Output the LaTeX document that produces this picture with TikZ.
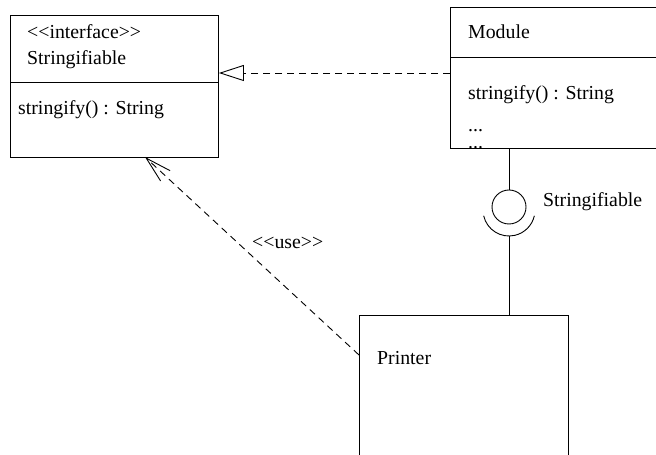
\documentclass[tikz,border=0pt]{standalone}
\usepackage{fontspec}
\setmainfont{Liberation Serif}
\usetikzlibrary{arrows.meta,calc}
\begin{document}
\begin{tikzpicture}[x=1pt,y=1pt,
  every node/.style={font=\fontsize{19.8}{24}\selectfont},
  box/.style={draw, line width=0.9pt, rectangle, inner sep=0pt, anchor=north west},
  txt/.style={anchor=base west, inner sep=0pt},
  ln/.style={line width=0.9pt},
  dep/.style={line width=0.9pt, dash pattern=on 7pt off 5pt},
]
\useasboundingbox (0,0) rectangle (656,455);
\clip (0,0) rectangle (656,455);
% boxes
\node[box, minimum width=208pt, minimum height=142pt] (iface) at (10,440) {};
\node[box, minimum width=230pt, minimum height=141pt] (module) at (450,448) {};
\node[box, minimum width=209pt, minimum height=220pt] (printer) at (359,140) {};
\draw[ln] (iface.west |- 0,373) -- (iface.east |- 0,373);
\draw[ln] (module.west |- 0,398) -- (module.east |- 0,398);
% texts
\node[txt] (t1) at (27,416) {{<}{<}interface{>}{>}};
\node[txt] (t2) at (27,390) {Stringifiable};
\node[txt] (t3) at (18,340) {stringify() : String};
\node[txt] (m1) at (468,416) {Module};
\node[txt] (m2) at (468,355) {stringify() : String};
\node[txt] (m3) at (468,323) {...};
\node[txt] (m4) at (468,306) {...};
\node[txt] (p1) at (377,90) {Printer};
\node[txt] (lbl) at (543,248) {Stringifiable};
\node[txt] (use) at (252,206) {{<}{<}use{>}{>}};
% lollipop
\node[draw, ln, circle, minimum size=34pt, inner sep=0pt] (ball) at (509,248) {};
\coordinate (sockc) at (509,245);
\coordinate (sockb) at (509,219);
\draw[ln] (module.south -| ball) -- (ball.north);
\draw[ln] ($(sockc)+(193:26)$) arc[start angle=193, end angle=347, radius=26];
\draw[ln] (sockb) -- (printer.north -| sockb);
% realization
\draw[dep, -{Triangle[open, length=25pt, width=16pt, line width=0.9pt, sep=0pt]}]
  (module.west |- 0,382) -- (iface.east |- 0,382);
% dependency
\coordinate (depstart) at (359,100);
\coordinate (depend) at (145,298);
\draw[dep, -{Straight Barb[length=26pt, width=14pt, line width=0.9pt]}] (depstart) -- (depend);
\end{tikzpicture}
\end{document}
